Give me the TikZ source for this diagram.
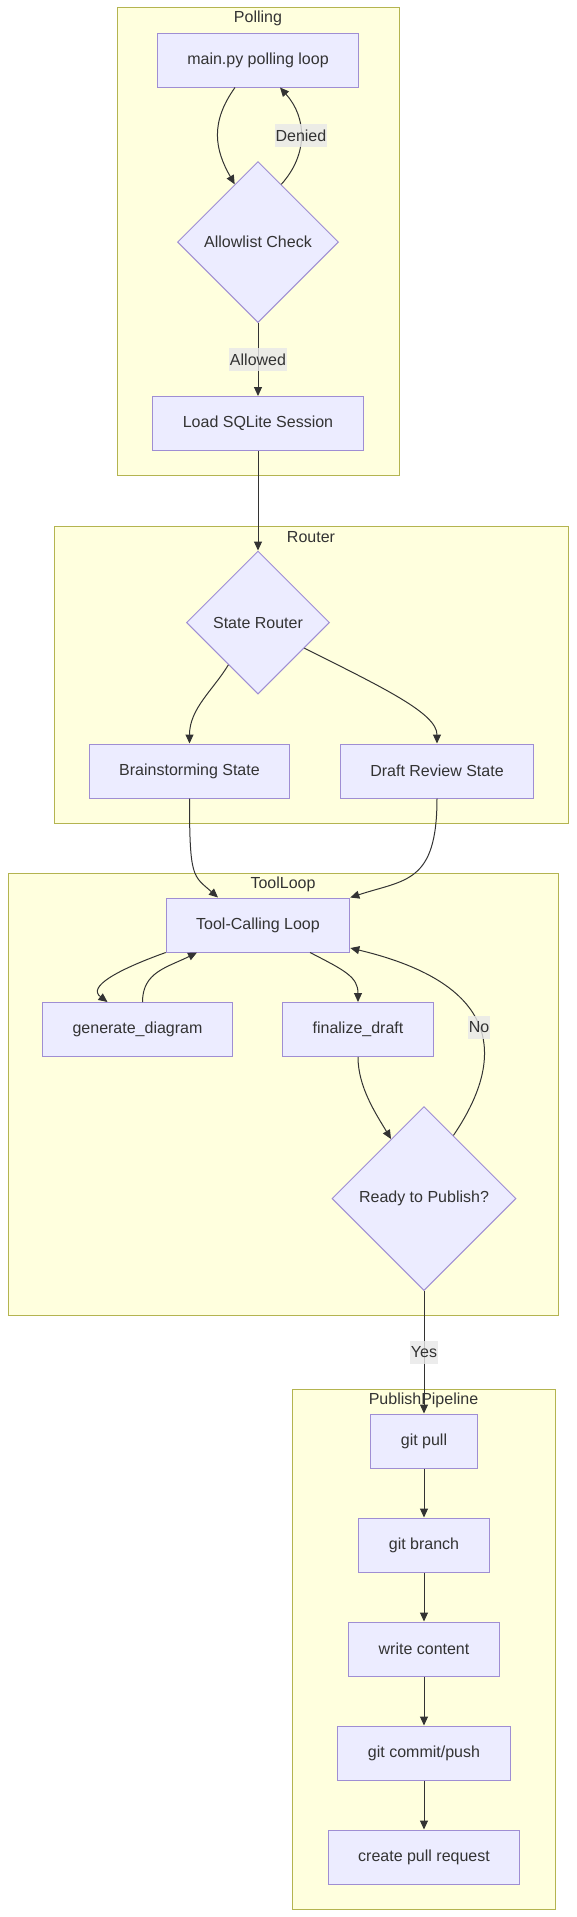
\documentclass[tikz,border=0pt]{standalone}
\usepackage{fontspec}
\setmainfont{Liberation Sans}
\usetikzlibrary{arrows.meta, shapes.geometric}
\definecolor{NodeFill}{HTML}{ECECFF}
\definecolor{NodeLine}{HTML}{9F8ED3}
\definecolor{GroupFill}{HTML}{FFFFDE}
\definecolor{GroupLine}{HTML}{B4B450}
\definecolor{EdgeGrey}{HTML}{333333}
\definecolor{LabelGrey}{HTML}{E8E8E8}

\begin{document}
\begin{tikzpicture}[
    x=1pt,
    y=-1pt,
    font=\fontsize{16}{19}\selectfont,
    text=EdgeGrey,
    group/.style={fill=GroupFill, draw=GroupLine, line width=1pt},
    box/.style={rectangle, fill=NodeFill, draw=NodeLine, line width=1pt, minimum height=54pt, inner xsep=30pt},
    choice/.style={diamond, aspect=1, fill=NodeFill, draw=NodeLine, line width=1pt, inner sep=0pt, minimum size=#1},
    flow/.style={draw=EdgeGrey, line width=1pt, -{Triangle[length=9pt, width=8pt]}},
    tag/.style={fill=LabelGrey, fill opacity=0.8, text opacity=1, inner xsep=0.5pt, inner ysep=0pt, minimum height=23pt}
]
% canvas
\fill[white] (0,0) rectangle (577,1917);
\useasboundingbox (0,0) rectangle (577,1917);

% Groups and their titles
\foreach \name/\xa/\ya/\xb/\yb/\lab in {polling/117/7/399/475/Polling, router/54/526/568/823/Router, toolloop/8/873/558/1315/ToolLoop, publish/292/1389/555/1909/PublishPipeline}{
  \draw[group] (\xa,\ya) rectangle (\xb,\yb);
  \node (\name) at ({(\xa+\xb)/2},\ya+11.5) {\lab};
}

% Polling
\node[box] (poll) at (258,60) {main.py polling loop};
\node[choice=161pt] (allow) at (258,242) {Allowlist Check};
\node[box] (load) at (258,423.5) {Load SQLite Session};

% Router
\node[choice=143pt] (route) at (258,622.5) {State Router};
\node[box] (brain) at (189.5,771) {Brainstorming State};
\node[box] (review) at (437,771) {Draft Review State};

% ToolLoop
\node[box] (tools) at (258,925) {Tool-Calling Loop};
\node[box] (diagram) at (137.5,1029.5) {generate\_diagram};
\node[box] (final) at (358,1029.5) {finalize\_draft};
\node[choice=184pt] (ready) at (424,1198.5) {Ready to Publish?};

% PublishPipeline
\foreach \name/\y/\lab in {pull/1441/git pull, branch/1545/git branch, write/1649/write content, commit/1753/{git commit/push}, pr/1857/create pull request}{
  \node[box] (\name) at (424,\y) {\lab};
}

% Polling edges
\draw[flow] ([xshift=-23pt]poll.south) .. controls +(-25,35) and +(-20,-35) .. (allow.112);
\draw[flow] (allow.68) .. controls +(27,-30) and +(27,30) .. ([xshift=22pt]poll.south) node[tag, midway] {Denied};
\draw[flow] (allow) -- (load) node[tag, midway] {Allowed};

% Router edges
\draw[flow] (load) -- (route);
\draw[flow] (route.235) .. controls +(-15,25) and +(0,-35) .. (brain.north);
\draw[flow] (route.-29) .. controls +(80,40) and +(0,-30) .. (review.north);

% ToolLoop edges
\draw[flow] (brain.south) .. controls +(0,80) and +(-25,-22) .. ([xshift=-40pt]tools.north);
\draw[flow] (review.south) .. controls +(0,85) and +(55,-18) .. (tools.north east);
\draw[flow] (tools.south west) .. controls +(-50,18) and +(-20,-15) .. ([xshift=-30pt]diagram.north);
\draw[flow] ([xshift=5pt]diagram.north) .. controls +(0,-30) and +(-30,15) .. ([xshift=-61pt]tools.south);
\draw[flow] ([xshift=52pt]tools.south) .. controls +(35,18) and +(0,-25) .. (final.north);
\draw[flow] (final.south) .. controls +(0,30) and +(-15,-25) .. (ready.119);
\draw[flow] (ready.65) .. controls +(51,-75) and +(155,37) .. (tools.-14) node[tag, midway] {No};

% Publish edges
\draw[flow] (ready) -- (pull) node[tag, midway] {Yes};
\foreach \a/\b in {pull/branch, branch/write, write/commit, commit/pr}{
  \draw[flow] (\a) -- (\b);
}

\end{tikzpicture}
\end{document}
